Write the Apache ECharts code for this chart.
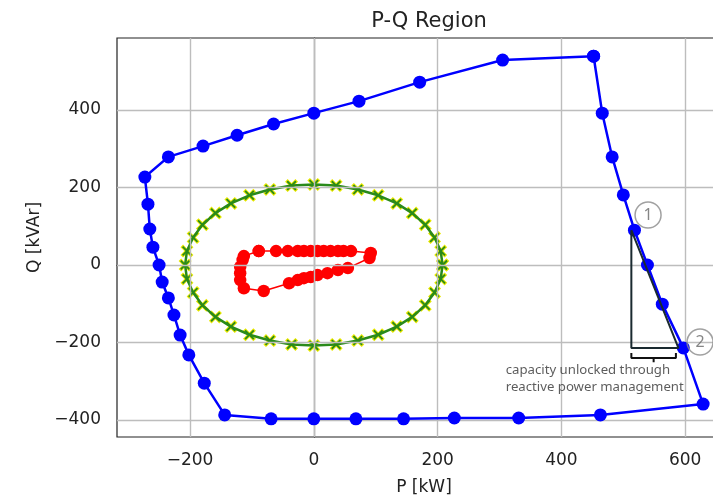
<!DOCTYPE html>
<html><head><meta charset="utf-8">
<script src="https://cdn.jsdelivr.net/npm/echarts@6/dist/echarts.min.js"></script>
<style>html,body{margin:0;padding:0;background:#fff;overflow:hidden}#c{width:713px;height:499px}</style>
</head><body><div id="c"></div>
<script>
// ---- data ----
const title = 'P-Q Region';
const xName = 'P [kW]';
const yName = 'Q [kVAr]';
const xTicks = [-200, 0, 200, 400, 600];
const yTicks = [-400, -200, 0, 200, 400];

const blueP = [452, 466, 482, 500, 518, 539, 563, 597, 629, 463, 331, 227, 145, 68, 0, -69, -144, -177, -202, -216, -226, -235, -245, -250, -260, -265, -268, -273, -235, -179, -124, -65, 0, 73, 171, 305, 452];
const blueQ = [539, 392, 279, 181, 90, 0, -101, -214, -359, -387, -395, -395, -397, -397, -397, -397, -387, -305, -232, -181, -129, -85, -44, 0, 46, 93, 157, 227, 279, 307, 335, 364, 392, 423, 472, 529, 539];

const greenP = [208, 205, 195, 180, 159, 134, 104, 71, 36, 0, -36, -71, -104, -134, -159, -180, -195, -205, -208, -205, -195, -180, -159, -134, -104, -71, -36, 0, 36, 71, 104, 134, 159, 180, 195, 205, 208];
const greenQ = [0, 36, 71, 104, 134, 159, 180, 195, 205, 208, 205, 195, 180, 159, 134, 104, 71, 36, 0, -36, -71, -104, -134, -159, -180, -195, -205, -208, -205, -195, -180, -159, -134, -104, -71, -36, 0];

const redP = [-89, -61, -42, -26, -16, -5, 6, 16, 27, 39, 48, 60, 92, 90, 55, 39, 22, 6, -5, -16, -26, -40, -81, -113, -119, -119, -119, -115, -113, -89];
const redQ = [36, 36, 36, 36, 36, 36, 36, 36, 36, 36, 36, 36, 31, 18, -8, -13, -21, -26, -31, -34, -39, -47, -67, -60, -39, -21, -5, 13, 23, 36];

// annotation (data coordinates)
const triP = [513, 513, 589, 513];
const triQ = [90, -214, -214, 90];
const braceP = [513, 513, 549, 549, 549, 585, 585];
const braceQ = [-227, -240, -240, -251, -240, -240, -227];
const markerLabels = ['1', '2'];
const markerP = [540, 624];
const markerQ = [129, -199];
const noteText = 'capacity unlocked through\nreactive power management';
const noteP = 310;
const noteQ = -294;

const zip = (a, b) => a.map((v, i) => [v, b[i]]);
const fmt = v => String(v).replace('-', '\u2212');
const FONT = 'DejaVu Sans';
const crossBig = 'path://M2,0L5,3L8,0L10,2L7,5L10,8L8,10L5,7L2,10L0,8L3,5L0,2Z';
const crossSmall = 'path://M1.3,0L5,3.7L8.7,0L10,1.3L6.3,5L10,8.7L8.7,10L5,6.3L1.3,10L0,8.7L3.7,5L0,1.3Z';

const chart = echarts.init(document.getElementById('c'), null, {renderer: 'canvas'});
chart.setOption({
  animation: false,
  backgroundColor: '#fff',
  title: {text: title, left: 424, top: 6, textAlign: 'center',
    textStyle: {fontFamily: FONT, fontSize: 21, fontWeight: 'normal', color: '#222'}},
  grid: {left: 117, top: 38, width: 614, height: 399, outerBoundsMode: 'none', containLabel: false,
    show: true, borderColor: '#222', borderWidth: 1.2, backgroundColor: 'transparent'},
  xAxis: {type: 'value', min: -318, max: 674,
    name: xName, nameLocation: 'middle', nameGap: 42,
    nameTextStyle: {fontFamily: FONT, fontSize: 17, color: '#222'},
    axisLine: {show: true, lineStyle: {color: '#222', width: 1.2}},
    axisTick: {show: true, length: 6, customValues: xTicks, lineStyle: {color: '#222'}},
    axisLabel: {customValues: xTicks, formatter: fmt, fontFamily: FONT, fontSize: 17, color: '#222', margin: 15},
    splitLine: {show: false}},
  yAxis: {type: 'value', min: -444, max: 586,
    name: yName, nameLocation: 'middle', nameGap: 73,
    nameTextStyle: {fontFamily: FONT, fontSize: 17, color: '#222'},
    axisLine: {show: true, lineStyle: {color: '#222', width: 1.2}},
    axisTick: {show: true, length: 6, customValues: yTicks, lineStyle: {color: '#222'}},
    axisLabel: {customValues: yTicks, formatter: fmt, fontFamily: FONT, fontSize: 17, color: '#222', margin: 16},
    splitLine: {show: false}},
  series: [
    {type: 'line', data: [], silent: true, z: 1,
      markLine: {silent: true, symbol: 'none', label: {show: false},
        lineStyle: {color: '#bdbdbd', width: 1.4, type: 'solid'},
        data: xTicks.map(v => ({xAxis: v})).concat(yTicks.map(v => ({yAxis: v})))}},
    {type: 'line', data: zip(greenP, greenQ), symbol: crossBig, symbolSize: 13, z: 2,
      lineStyle: {width: 0}, itemStyle: {color: '#e8e800'}},
    {type: 'line', data: zip(greenP, greenQ), symbol: crossSmall, symbolSize: 10, z: 3,
      lineStyle: {color: '#2a8a1a', width: 2.5}, itemStyle: {color: '#2a8a1a'}},
    {type: 'line', data: zip(redP, redQ), symbol: 'circle', symbolSize: 12.5, z: 4,
      lineStyle: {color: '#ff0000', width: 1.5}, itemStyle: {color: '#ff0000'}},
    {type: 'line', data: zip(blueP, blueQ), symbol: 'circle', symbolSize: 13, z: 5,
      lineStyle: {color: '#0000ff', width: 2.5}, itemStyle: {color: '#0000ff'}},
    {type: 'line', data: zip(triP, triQ), symbol: 'none', z: 6,
      lineStyle: {color: '#1a2a30', width: 2}},
    {type: 'line', data: zip(braceP, braceQ), symbol: 'none', z: 6,
      lineStyle: {color: '#111', width: 2}},
    {type: 'scatter', data: markerLabels.map((t, i) => ({value: [markerP[i], markerQ[i]], name: t})),
      symbol: 'circle', symbolSize: 26, z: 7,
      itemStyle: {color: 'rgba(255,255,255,0)', borderColor: '#8a8a8a', borderWidth: 1.5},
      label: {show: true, position: 'inside', formatter: p => p.name, fontFamily: 'Noto Sans', fontSize: 16, color: '#666'}},
    {type: 'scatter', data: [{value: [noteP, noteQ]}], symbolSize: 0, z: 7,
      label: {show: true, position: [0, 0], align: 'left', verticalAlign: 'middle', formatter: noteText,
        fontFamily: 'Noto Sans', fontSize: 13.2, lineHeight: 17, color: '#333'}}
  ]
});
</script></body></html>
